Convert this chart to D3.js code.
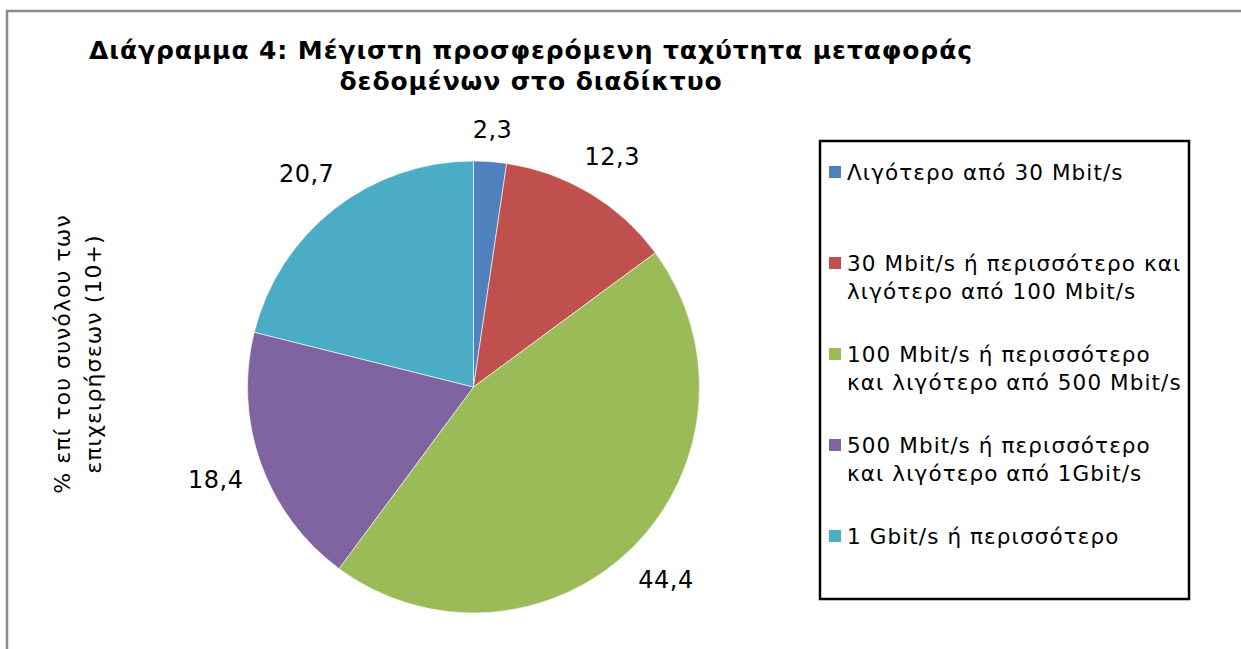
<!DOCTYPE html>
<html>
<head>
<meta charset="utf-8">
<script src="https://cdn.jsdelivr.net/npm/d3@7"></script>
<style>
  body { margin: 0; background: #fff; }
  svg text { font-family: Verdana, "DejaVu Sans", sans-serif; fill: #000; }
</style>
</head>
<body>
<div id="chart"></div>
<script>
// categories + values (percent of all enterprises 10+)
const categories = [
    ["Λιγότερο από 30 Mbit/s"],
    ["30 Mbit/s ή περισσότερο και", "λιγότερο από 100 Mbit/s"],
    ["100 Mbit/s ή περισσότερο", "και λιγότερο από 500 Mbit/s"],
    ["500 Mbit/s ή περισσότερο", "και λιγότερο από 1Gbit/s"],
    ["1 Gbit/s ή περισσότερο"]
];
const values = [2.3, 12.3, 44.4, 18.4, 20.7];
const colors = ["#4F81BD", "#C0504D", "#9BBB59", "#8064A2", "#4BACC6"];
const titleLines = ["Διάγραμμα 4: Μέγιστη προσφερόμενη ταχύτητα μεταφοράς", "δεδομένων στο διαδίκτυο"];
const axisLines = ["% επί του συνόλου των", "επιχειρήσεων (10+)"];

const width = 1241, height = 649;
const cx = 473.5, cy = 387, radius = 226;

const fmt = d => d.toFixed(1).replace(".", ",");

let svg = d3.select("#chart")
    .append("svg")
    .attr("width", width)
    .attr("height", height);

svg.append("rect")
    .attr("width", width)
    .attr("height", height)
    .attr("fill", "#fff");

// outer frame (only top + left visible)
svg.append("path")
    .attr("d", `M7,${height} L7,11 L${width},11`)
    .attr("fill", "none")
    .attr("stroke", "#8a8a8a")
    .attr("stroke-width", 2.5);

// title
svg.append("g")
    .selectAll("text")
    .data(titleLines)
    .enter()
    .append("text")
    .attr("x", 531)
    .attr("y", (d, i) => 59 + i * 31)
    .attr("text-anchor", "middle")
    .attr("font-size", 25)
    .attr("font-weight", "bold")
    .attr("letter-spacing", 0.9)
    .text(d => d);

// rotated axis title
svg.append("g")
    .attr("transform", "translate(77,354) rotate(-90)")
    .selectAll("text")
    .data(axisLines)
    .enter()
    .append("text")
    .attr("x", 0)
    .attr("y", (d, i) => -15 + i * 31)
    .attr("dy", "0.35em")
    .attr("text-anchor", "middle")
    .attr("font-size", 22)
    .attr("letter-spacing", 1.1)
    .text(d => d);

// pie
const pie = d3.pie().sort(null).value(d => d);
const arcs = pie(values);
const arc = d3.arc().innerRadius(0).outerRadius(radius);

let g = svg.append("g").attr("transform", `translate(${cx},${cy})`);

g.selectAll("path")
    .data(arcs)
    .enter()
    .append("path")
    .attr("d", arc)
    .attr("fill", (d, i) => colors[i])
    .attr("stroke", "#fff")
    .attr("stroke-width", 0.6);

// labels outside end
g.selectAll("text")
    .data(arcs)
    .enter()
    .append("text")
    .attr("font-size", 24)
    .attr("letter-spacing", 0.5)
    .attr("text-anchor", "middle")
    .attr("dy", "0.35em")
    .text(d => fmt(d.data))
    .each(function(d) {
        const a = (d.startAngle + d.endAngle) / 2;
        const bb = this.getBBox();
        const s = Math.sin(a), c = Math.cos(a);
        const ext = Math.abs(bb.width / 2 * s) + Math.abs(bb.height / 2 * c);
        const rr = radius + 17 + ext;
        d3.select(this)
            .attr("x", rr * s)
            .attr("y", -rr * c);
    });

// legend
const legX = 820, legY = 141, legW = 369, legH = 458;
svg.append("rect")
    .attr("x", legX)
    .attr("y", legY)
    .attr("width", legW)
    .attr("height", legH)
    .attr("fill", "none")
    .attr("stroke", "#000")
    .attr("stroke-width", 2.5);

const itemY = d3.scalePoint()
    .domain(d3.range(categories.length))
    .range([172, 536]);

let items = svg.append("g")
    .selectAll("g")
    .data(categories)
    .enter()
    .append("g")
    .attr("transform", (d, i) => `translate(0,${itemY(i)})`);

items.append("rect")
    .attr("x", 829)
    .attr("y", -6)
    .attr("width", 12)
    .attr("height", 12)
    .attr("fill", (d, i) => colors[i]);

items.each(function(lines) {
    d3.select(this)
        .selectAll("text")
        .data(lines)
        .enter()
        .append("text")
        .attr("x", 847)
        .attr("y", (d, j) => j * 28.5)
        .attr("dy", "0.35em")
        .attr("font-size", 21.5)
        .attr("letter-spacing", 1.1)
        .text(d => d);
});
</script>
</body>
</html>
